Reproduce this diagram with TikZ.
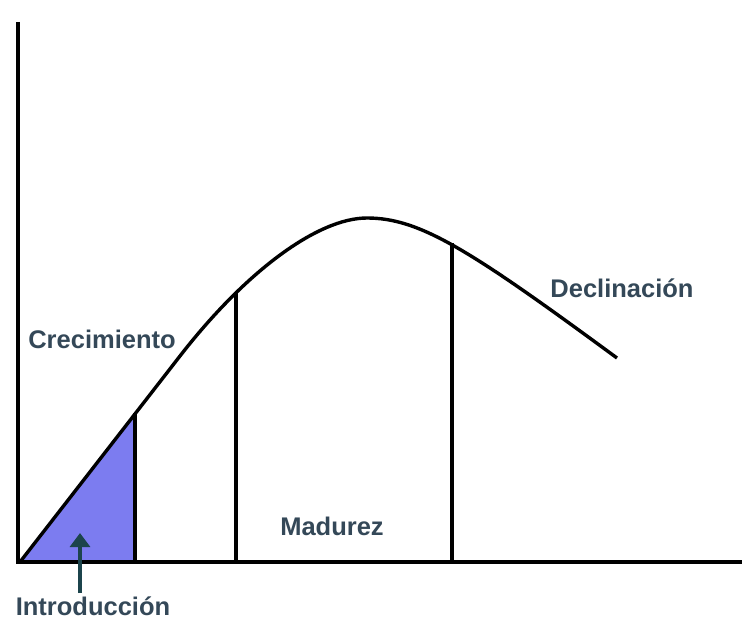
\documentclass[tikz,border=0pt]{standalone}
\usepackage{fontspec}
\setmainfont{Liberation Sans}
\usetikzlibrary{arrows.meta}
\definecolor{txtc}{RGB}{52,72,88}
\definecolor{arrc}{RGB}{28,68,76}
\definecolor{fillc}{RGB}{124,124,240}
\tikzset{
  axisline/.style={line width=3.6pt},
  curveline/.style={line width=3.4pt, line join=round},
  divider/.style={line width=3.4pt},
  lbl/.style={text=txtc, font=\bfseries\fontsize{25.5}{30}\selectfont, anchor=base, inner sep=0pt},
}
\begin{document}
\begin{tikzpicture}[x=1pt,y=-1pt]
\useasboundingbox (0,0) rectangle (742,626);
\fill[white] (0,0) rectangle (742,626);
% key coordinates
\coordinate (O) at (20,562);
\coordinate (T1) at (135,413);
\coordinate (B1) at (135,562);
\coordinate (S) at (180,356);
\coordinate (T2) at (236,293);
\coordinate (B2) at (236,562);
\coordinate (P) at (367,218);
\coordinate (T3) at (452,243);
\coordinate (B3) at (452,562);
\coordinate (E) at (617,358);
\coordinate (Ytop) at (18,22);
\coordinate (Ybot) at (18,564);
\coordinate (Xend) at (742,562);
% fill triangle
\fill[fillc] (O) -- (T1) -- (B1) -- cycle;
% dividers
\draw[divider] (T1) -- (B1);
\draw[divider] (T2) -- (B2);
\draw[divider] (T3) -- (B3);
% curve
\draw[curveline] (O) -- (S) .. controls (246,271) and (318,218) .. (P)
  .. controls (420,218) and (470,250) .. (E);
% axes
\draw[axisline] (Ytop) -- (Ybot);
\draw[axisline] (18,562) -- (Xend);
% labels
\node[lbl] (intro) at (93,615) {Introducción};
\node[lbl] (crec) at (102,348) {Crecimiento};
\node[lbl] (mad) at (332,535) {Madurez};
\node[lbl] (decl) at (622,297) {Declinación};
% arrow
\coordinate (arrtip) at (80,533);
\coordinate (arrbase) at (80,593);
\draw[arrc, line width=3.2pt, -{Triangle[width=20pt,length=14pt]}] (arrbase) -- (arrtip);
\end{tikzpicture}
\end{document}
